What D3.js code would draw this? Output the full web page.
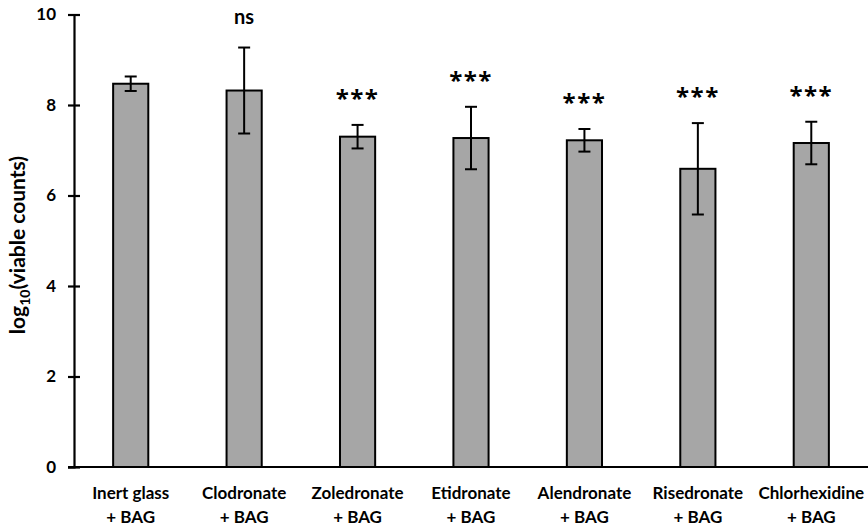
<!DOCTYPE html>
<html>
<head>
<meta charset="utf-8">
<script src="https://cdn.jsdelivr.net/npm/d3@7"></script>
<style>
  html, body { margin: 0; padding: 0; background: #fff; }
  svg text { font-family: Lato, "Open Sans", sans-serif; font-weight: 700; fill: #000; }
  svg text.stars { font-family: "Open Sans", sans-serif; }
</style>
</head>
<body>
<svg id="chart" width="868" height="526"></svg>
<script>
// Bacterial viability after exposure to each agent combined with bioactive glass
const categories = ["Inert glass", "Clodronate", "Zoledronate", "Etidronate", "Alendronate", "Risedronate", "Chlorhexidine"];
const secondLine = "+ BAG";
const means = [8.47, 8.32, 7.30, 7.27, 7.22, 6.59, 7.16];
const errors = [0.16, 0.95, 0.26, 0.69, 0.25, 1.01, 0.47];
const significance = ["", "ns", "***", "***", "***", "***", "***"];
const yTicks = [0, 2, 4, 6, 8, 10];

const svg = d3.select("#chart");
const margin = { left: 74, right: 0, top: 14.5, bottom: 59 };
const W = 868, H = 526;

const x = d3.scaleBand()
  .domain(categories)
  .range([margin.left, W - margin.right])
  .paddingInner(0.69)
  .paddingOuter(0.345);

const y = d3.scaleLinear()
  .domain([0, 10])
  .range([H - margin.bottom, margin.top]);

// Bars
svg.append("g").selectAll("rect")
  .data(categories)
  .join("rect")
  .attr("x", d => x(d))
  .attr("width", x.bandwidth())
  .attr("y", (d, i) => y(means[i]))
  .attr("height", (d, i) => y(0) - y(means[i]))
  .attr("fill", "#a6a6a6")
  .attr("stroke", "#000")
  .attr("stroke-width", 2);

// Error bars
const capHalf = 6;
const eb = svg.append("g").attr("stroke", "#000").attr("stroke-width", 2);
categories.forEach((c, i) => {
  const cx = x(c) + x.bandwidth() / 2;
  const top = y(means[i] + errors[i]);
  const bot = y(means[i] - errors[i]);
  eb.append("line").attr("x1", cx).attr("x2", cx).attr("y1", top).attr("y2", bot);
  eb.append("line").attr("x1", cx - capHalf).attr("x2", cx + capHalf).attr("y1", top).attr("y2", top);
  eb.append("line").attr("x1", cx - capHalf).attr("x2", cx + capHalf).attr("y1", bot).attr("y2", bot);
});

// Significance markers above error bars
svg.append("g").selectAll("text")
  .data(categories)
  .join("text")
  .attr("class", (d, i) => significance[i] === "ns" ? "ns" : "stars")
  .attr("x", d => x(d) + x.bandwidth() / 2)
  .attr("y", (d, i) => y(means[i] + errors[i]) - (significance[i] === "ns" ? 24 : 18))
  .attr("text-anchor", "middle")
  .attr("font-size", (d, i) => significance[i] === "ns" ? 20 : 24)
  .attr("letter-spacing", (d, i) => significance[i] === "ns" ? 0 : 1.5)
  .text((d, i) => significance[i]);

// Y axis
const yAxis = svg.append("g")
  .attr("transform", `translate(${margin.left},0)`)
  .call(d3.axisLeft(y).tickValues(yTicks).tickSize(6).tickPadding(12).tickFormat(d3.format("d")));
yAxis.select(".domain").attr("stroke", "#000").attr("stroke-width", 2.2);
yAxis.selectAll(".tick line").attr("x2", 6).attr("x1", -6).attr("stroke", "#000").attr("stroke-width", 2.2);
yAxis.selectAll(".tick text").attr("font-size", 17);

// X axis baseline
svg.append("line")
  .attr("x1", margin.left - 6).attr("x2", W)
  .attr("y1", y(0)).attr("y2", y(0))
  .attr("stroke", "#000").attr("stroke-width", 2.2);

// Category labels (two lines)
const lab = svg.append("g").selectAll("text")
  .data(categories)
  .join("text")
  .attr("text-anchor", "middle")
  .attr("font-size", 17)
  .attr("transform", d => `translate(${x(d) + x.bandwidth() / 2},0)`);
lab.append("tspan").attr("x", 0).attr("y", 499).text(d => d);
lab.append("tspan").attr("x", 0).attr("y", 523).text(secondLine);

// Y axis title
const yt = svg.append("text")
  .attr("transform", `translate(25,245) rotate(-90)`)
  .attr("text-anchor", "middle")
  .attr("font-size", 21);
yt.append("tspan").text("log");
yt.append("tspan").attr("font-size", 14).attr("dy", 5).text("10");
yt.append("tspan").attr("dy", -5).text("(viable counts)");
</script>
</body>
</html>
